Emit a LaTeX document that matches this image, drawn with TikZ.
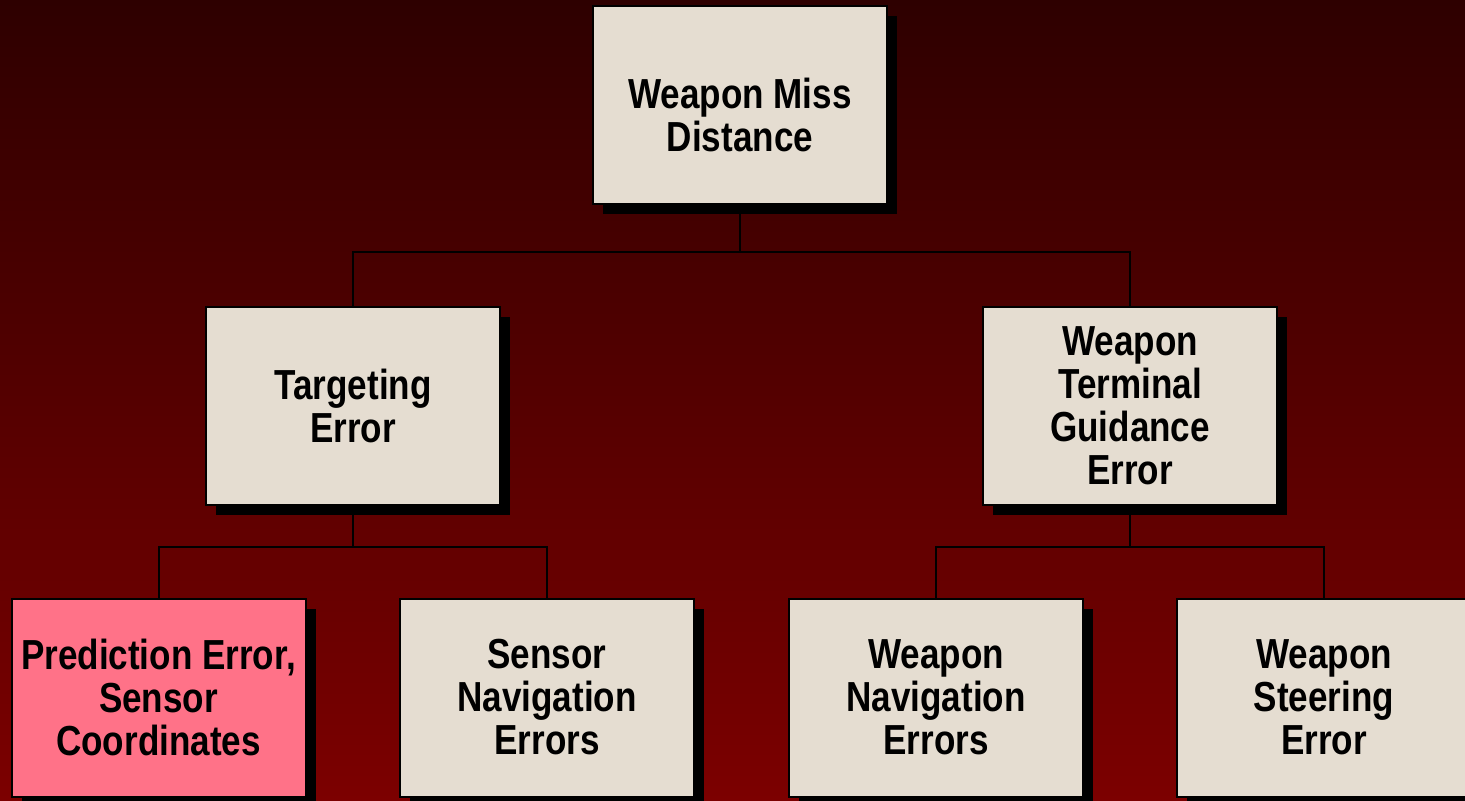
\documentclass[tikz,border=0pt]{standalone}
\usepackage{fontspec}
\setmainfont{Liberation Sans}[FakeStretch=0.835]
\usetikzlibrary{shadows}
\definecolor{bgtop}{RGB}{46,0,0}
\definecolor{bgbot}{RGB}{124,0,0}
\definecolor{paper}{RGB}{229,221,209}
\definecolor{hilite}{RGB}{255,114,136}
\tikzset{
  block/.style={draw=black, line width=1pt, fill=paper,
    minimum width=147pt, minimum height=99pt, inner sep=0pt,
    align=center, font=\fontsize{21}{21.5}\selectfont\bfseries,
    drop shadow={shadow xshift=5pt, shadow yshift=-5pt, fill=black, opacity=1}},
  marked/.style={fill=hilite},
  wire/.style={draw=black, line width=1pt}
}
\begin{document}
\begin{tikzpicture}[x=0.5pt,y=-0.5pt]
  % backdrop with vertical shading
  \shade[top color=bgtop, bottom color=bgbot] (0,0) rectangle (1465,801);
  \useasboundingbox (0,0) rectangle (1465,801);

  \node[block] (miss)  at (740,105) {\rule{0pt}{25pt}Weapon Miss\\Distance};
  \node[block] (targ)  at (353,406) {Targeting\\Error};
  \node[block] (term)  at (1130,406) {Weapon\\Terminal\\Guidance\\Error};
  \node[block, marked] (pred) at (158.5,697.5) {Prediction Error,\\Sensor\\Coordinates};
  \node[block] (snav)  at (547,697.5) {Sensor\\Navigation\\Errors};
  \node[block] (wnav)  at (936,697.5) {Weapon\\Navigation\\Errors};
  \node[block] (steer) at (1324,697.5) {Weapon\\Steering\\Error};

  % tree connectors
  \coordinate (j1) at (740,252);
  \coordinate (j2) at (353,547);
  \coordinate (j3) at (1130,547);
  \draw[wire] (miss.south) -- (j1);
  \draw[wire] (targ.north) |- (j1) -| (term.north);
  \draw[wire] (targ.south) -- (j2);
  \draw[wire] (pred.north) |- (j2) -| (snav.north);
  \draw[wire] (term.south) -- (j3);
  \draw[wire] (wnav.north) |- (j3) -| (steer.north);
\end{tikzpicture}
\end{document}
